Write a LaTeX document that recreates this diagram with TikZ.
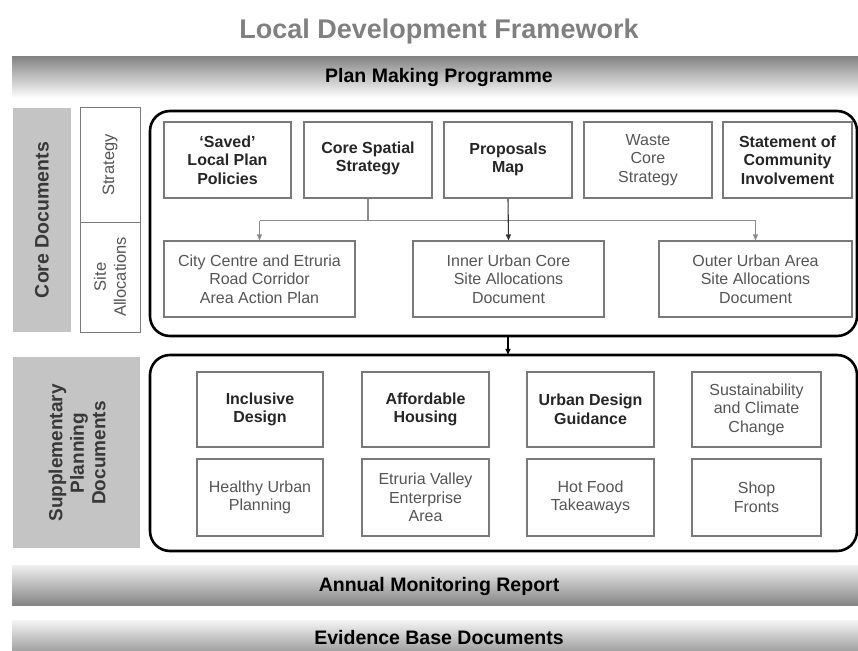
\documentclass[tikz,border=0pt]{standalone}
\usepackage{fontspec}
\setmainfont{Liberation Sans}
\usetikzlibrary{arrows.meta}
\definecolor{bandgray}{HTML}{858585}
\definecolor{sidegray}{HTML}{C4C4C4}
\definecolor{boxline}{HTML}{7A7A7A}
\definecolor{softtext}{HTML}{555555}
\tikzset{
  band/.style={draw=none, minimum width=846, minimum height=#1, inner sep=0pt},
  bandtxt/.style={font=\fontsize{19.5}{22}\selectfont\bfseries, text=black},
  bigbox/.style={draw=black, line width=2.6pt, rounded corners=20pt},
  docbox/.style={draw=boxline, line width=1.1pt, align=center, inner sep=2pt,
    font=\fontsize{16}{18.5}\selectfont, text=softtext},
  boldbox/.style={docbox, font=\fontsize{16}{18.5}\selectfont\bfseries, text=black!85},
  conn/.style={draw=black!45, line width=1.1pt},
  darkconn/.style={draw=black!80, line width=1.1pt},
  tip/.style={-{Triangle[length=6pt,width=5pt]}},
  sidetxt/.style={rotate=90, align=center, font=\fontsize{19.5}{22}\selectfont\bfseries, text=black!78},
  tagtxt/.style={rotate=90, align=center, font=\fontsize{16.5}{19}\selectfont, text=softtext}
}
\begin{document}
\begin{tikzpicture}[x=1pt,y=-1pt]
\useasboundingbox (0,0) rectangle (858,650);
% title
\node[font=\fontsize{27}{30}\selectfont\bfseries, text=black!50] (title) at (439,32) {Local Development Framework};
% top band
\shade[top color=bandgray, bottom color=white] (12,57) rectangle (858,98);
\node[bandtxt] (pmp) at (439,78) {Plan Making Programme};
% bottom bands
\shade[top color=white!94!black, bottom color=bandgray] (12,565) rectangle (858,605);
\node[bandtxt] (amr) at (439,586) {Annual Monitoring Report};
\shade[top color=white!96!black, bottom color=bandgray!80!white] (12,620) rectangle (858,652);
\node[bandtxt] (ebd) at (439,638) {Evidence Base Documents};

% left labels core
\fill[sidegray] (13,108) rectangle (71,332);
\node[sidetxt] (coredoc) at (42,220) {Core Documents};
\draw[boxline, line width=1pt] (80,108) rectangle (140,222);
\draw[boxline, line width=1pt] (80,222) rectangle (140,332);
\node[tagtxt] (strat) at (110,165) {Strategy};
\node[tagtxt, font=\fontsize{16.5}{20}\selectfont] (siteall) at (110,277) {Site\\Allocations};

% core big box
\draw[bigbox] (150,111) rectangle (857,336);
\node[inner sep=0pt, minimum width=707, minimum height=225] (corebox) at (503.5,223.5) {};

% top row
\node[boldbox, minimum width=127, minimum height=76] (saved) at (227.5,160) {`Saved'\\Local Plan\\Policies};
\node[boldbox, minimum width=128, minimum height=76, text depth=7pt] (css) at (368,160) {Core Spatial\\Strategy};
\node[boldbox, minimum width=128, minimum height=76, text depth=5pt] (pmap) at (508,160) {Proposals\\Map};
\node[docbox, minimum width=128, minimum height=76] (waste) at (648,160) {Waste\\Core\\Strategy};
\node[boldbox, minimum width=129, minimum height=76] (sci) at (787.5,160) {Statement of\\Community\\Involvement};
% bottom row
\node[docbox, minimum width=191, minimum height=76] (ccentre) at (259.5,279) {City Centre and Etruria\\Road Corridor\\Area Action Plan};
\node[docbox, minimum width=191, minimum height=76] (inner) at (508.5,279) {Inner Urban Core\\Site Allocations\\Document};
\node[docbox, minimum width=193, minimum height=76] (outer) at (755.5,279) {Outer Urban Area\\Site Allocations\\Document};

% connectors
\path (css.south) ++(0,22) coordinate (jn);
\draw[conn] (css.south) -- (jn);
\draw[conn] (jn -| ccentre.north) -- (jn -| outer.north);
\draw[conn, tip] (jn -| ccentre.north) -- (ccentre.north);
\draw[conn, tip] (jn -| outer.north) -- (outer.north);
\draw[darkconn, tip] (pmap.south) -- (inner.north);

% SPD
\fill[sidegray] (13,357) rectangle (140,548);
\node[sidetxt, font=\fontsize{19}{21.5}\selectfont\bfseries] (spdlab) at (77,453) {Supplementary\\Planning\\Documents};
\draw[bigbox] (150,355) rectangle (857,551);
\node[inner sep=0pt, minimum width=707, minimum height=196] (spdbox) at (503.5,453) {};
\draw[black, line width=1.6pt, tip] (corebox.south -| pmap.south) -- (spdbox.north -| pmap.south);

\node[boldbox, minimum width=126, minimum height=75] (incl) at (260,409.5) {Inclusive\\Design};
\node[boldbox, minimum width=127, minimum height=75] (afford) at (425.5,409.5) {Affordable\\Housing};
\node[boldbox, minimum width=127, minimum height=75] (udg) at (590.5,409.5) {Urban Design\\Guidance};
\node[docbox, minimum width=129, minimum height=75] (sust) at (756.5,409.5) {Sustainability\\and Climate\\Change};
\node[docbox, minimum width=126, minimum height=77] (healthy) at (260,497.5) {Healthy Urban\\Planning};
\node[docbox, minimum width=127, minimum height=77] (etruria) at (425.5,497.5) {Etruria Valley\\Enterprise\\Area};
\node[docbox, minimum width=127, minimum height=77] (hotfood) at (590.5,497.5) {Hot Food\\Takeaways};
\node[docbox, minimum width=129, minimum height=77] (shop) at (756.5,497.5) {Shop\\Fronts};
\end{tikzpicture}
\end{document}
